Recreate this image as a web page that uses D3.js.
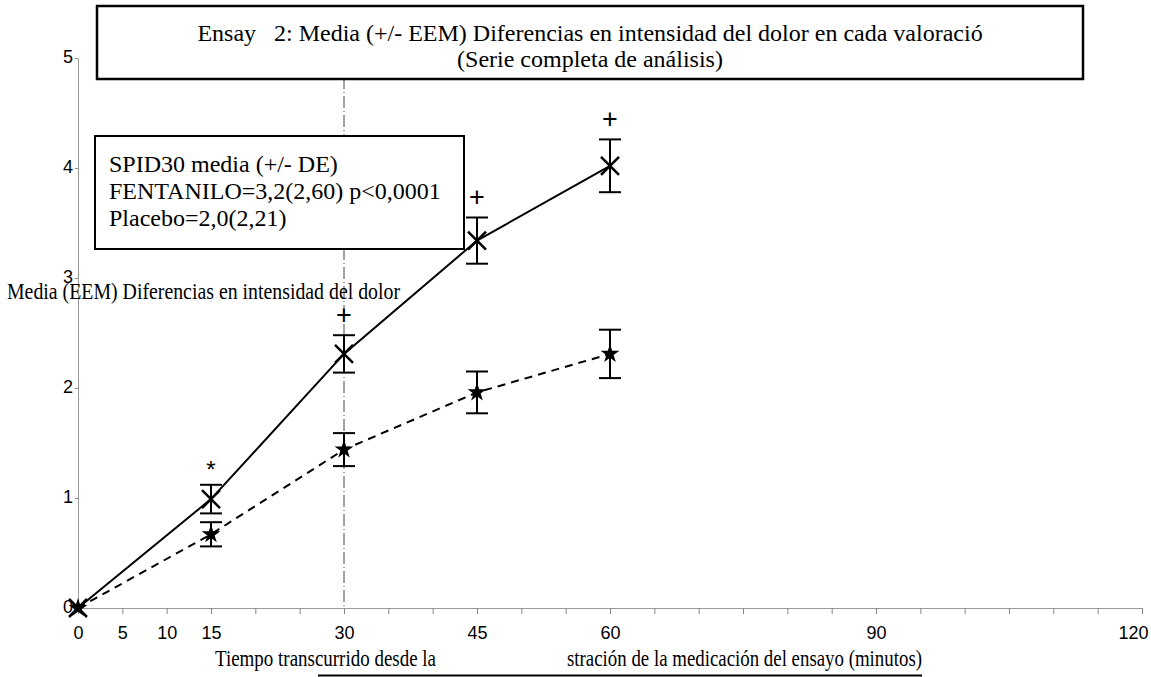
<!DOCTYPE html>
<html>
<head>
<meta charset="utf-8">
<script src="https://cdn.jsdelivr.net/npm/d3@7"></script>
<style>
  body { margin: 0; background: #fff; }
  svg text { fill: #000; }
</style>
</head>
<body>
<div id="chart"></div>
<script>
// data
const times = [0, 15, 30, 45, 60];
const fentMean = [0, 0.99, 2.31, 3.34, 4.02];
const fentSem = [0, 0.13, 0.17, 0.21, 0.24];
const placMean = [0, 0.67, 1.44, 1.96, 2.31];
const placSem = [0, 0.11, 0.15, 0.19, 0.22];
const sigTimes = [15, 30, 45, 60];
const sigSymbols = ['*', '+', '+', '+'];
const xTicks = [0, 5, 10, 15, 20, 25, 30, 35, 40, 45, 50, 55, 60, 65, 70, 75, 80, 85, 90, 95, 100, 105, 110, 115, 120];
const xTickLabels = [0, 5, 10, 15, 30, 45, 60, 90, 120];
const yTicks = [0, 1, 2, 3, 4, 5];
const titleLines = ['Ensay   2: Media (+/- EEM) Diferencias en intensidad del dolor en cada valoració', '(Serie completa de análisis)'];
const legendLines = ['SPID30 media (+/- DE)', 'FENTANILO=3,2(2,60) p<0,0001', 'Placebo=2,0(2,21)'];

const W = 1151, H = 677;
const svg = d3.select('#chart').append('svg').attr('width', W).attr('height', H);

const x = d3.scaleLinear().domain([0, 120]).range([78, 1142]);
const y = d3.scaleLinear().domain([0, 5]).range([608, 58]);
const serif = 'Liberation Serif, Times New Roman, serif';
const sans = 'Liberation Sans, Arial, sans-serif';

// axes
const xAxis = svg.append('g').attr('transform', `translate(0,${y(0)})`)
  .call(d3.axisBottom(x).tickValues(xTicks).tickSize(6).tickSizeOuter(0)
    .tickFormat(d => xTickLabels.includes(d) ? d : ''));
xAxis.select('.domain').attr('stroke', '#999');
xAxis.selectAll('line').attr('stroke', '#888');
xAxis.selectAll('text').attr('font-family', sans).attr('font-size', 18).attr('y', 0).attr('dy', 31)
  .filter(d => d === 120).attr('text-anchor', 'end').attr('dx', 6);

const yAxis = svg.append('g').attr('transform', `translate(${x(0)},0)`)
  .call(d3.axisLeft(y).tickValues(yTicks).tickSize(3).tickSizeOuter(0).tickFormat(d3.format('d')));
yAxis.select('.domain').attr('stroke', '#999');
yAxis.selectAll('line').attr('stroke', '#888');
yAxis.selectAll('text').attr('font-family', sans).attr('font-size', 18).attr('x', -5).attr('dy', '0.25em');

// reference line at 30 min
svg.append('line')
  .attr('x1', x(30)).attr('x2', x(30)).attr('y1', y(5)).attr('y2', y(0))
  .attr('stroke', '#444').attr('stroke-width', 1).attr('stroke-dasharray', '12,3,1,3');

// lines
const fent = times.map((t, i) => ({ t, m: fentMean[i], s: fentSem[i] }));
const plac = times.map((t, i) => ({ t, m: placMean[i], s: placSem[i] }));
const line = d3.line().x(d => x(d.t)).y(d => y(d.m));

svg.append('path').datum(fent).attr('d', line)
  .attr('fill', 'none').attr('stroke', '#000').attr('stroke-width', 2);
svg.append('path').datum(plac).attr('d', line)
  .attr('fill', 'none').attr('stroke', '#000').attr('stroke-width', 2).attr('stroke-dasharray', '8,6');

// error bars
function errBars(data) {
  const g = svg.append('g').attr('stroke', '#000').attr('stroke-width', 2);
  data.filter(d => d.s > 0).forEach(d => {
    g.append('line').attr('x1', x(d.t)).attr('x2', x(d.t)).attr('y1', y(d.m - d.s)).attr('y2', y(d.m + d.s));
    g.append('line').attr('x1', x(d.t) - 11).attr('x2', x(d.t) + 11).attr('y1', y(d.m - d.s)).attr('y2', y(d.m - d.s));
    g.append('line').attr('x1', x(d.t) - 11).attr('x2', x(d.t) + 11).attr('y1', y(d.m + d.s)).attr('y2', y(d.m + d.s));
  });
}
errBars(fent);
errBars(plac);

// markers
const crossPath = 'M-9,-9L9,9M-9,9L9,-9';
svg.append('g').selectAll('path').data(fent).join('path')
  .attr('transform', d => `translate(${x(d.t)},${y(d.m)})`)
  .attr('d', crossPath).attr('stroke', '#000').attr('stroke-width', 2.5);
svg.append('g').selectAll('path').data(plac).join('path')
  .attr('transform', d => `translate(${x(d.t)},${y(d.m)})`)
  .attr('d', d3.symbol(d3.symbolStar, 110)).attr('fill', '#000');

// significance marks above the fentanilo upper caps
svg.append('g').selectAll('text').data(sigTimes).join('text')
  .attr('x', d => x(d))
  .attr('y', d => { const j = times.indexOf(d); return y(fentMean[j] + fentSem[j]) - 21; })
  .attr('dy', (d, i) => sigSymbols[i] === '*' ? '0.6em' : '0.35em')
  .attr('text-anchor', 'middle')
  .attr('font-family', sans).attr('font-size', (d, i) => sigSymbols[i] === '*' ? 24 : 27)
  .text((d, i) => sigSymbols[i]);

// y label (horizontal, over the axis)
svg.append('text').attr('x', 7).attr('y', 299)
  .attr('font-family', serif).attr('font-size', 23)
  .attr('textLength', 393).attr('lengthAdjust', 'spacingAndGlyphs')
  .text('Media (EEM) Diferencias en intensidad del dolor');

// x label, split with a gap
svg.append('text').attr('x', 215).attr('y', 666)
  .attr('font-family', serif).attr('font-size', 23)
  .attr('textLength', 221).attr('lengthAdjust', 'spacingAndGlyphs')
  .text('Tiempo transcurrido desde la');
svg.append('text').attr('x', 567).attr('y', 666)
  .attr('font-family', serif).attr('font-size', 23)
  .attr('textLength', 355).attr('lengthAdjust', 'spacingAndGlyphs')
  .text('stración de la medicación del ensayo (minutos)');
svg.append('line').attr('x1', 318).attr('x2', 922).attr('y1', 675.5).attr('y2', 675.5)
  .attr('stroke', '#000').attr('stroke-width', 2);

// title box
svg.append('rect').attr('x', 97).attr('y', 6).attr('width', 986).attr('height', 73)
  .attr('fill', '#fff').attr('stroke', '#000').attr('stroke-width', 2.5);
svg.append('g').selectAll('text').data(titleLines).join('text')
  .attr('x', 590).attr('y', (d, i) => 41 + i * 26)
  .attr('text-anchor', 'middle').attr('font-family', serif).attr('font-size', 24)
  .attr('xml:space', 'preserve').style('white-space', 'pre')
  .text(d => d);

// legend box
svg.append('rect').attr('x', 95).attr('y', 136).attr('width', 369).attr('height', 113)
  .attr('fill', '#fff').attr('stroke', '#000').attr('stroke-width', 2);
svg.append('g').selectAll('text').data(legendLines).join('text')
  .attr('x', 109).attr('y', (d, i) => 172 + i * 27)
  .attr('font-family', serif).attr('font-size', 24)
  .text(d => d);
</script>
</body>
</html>
